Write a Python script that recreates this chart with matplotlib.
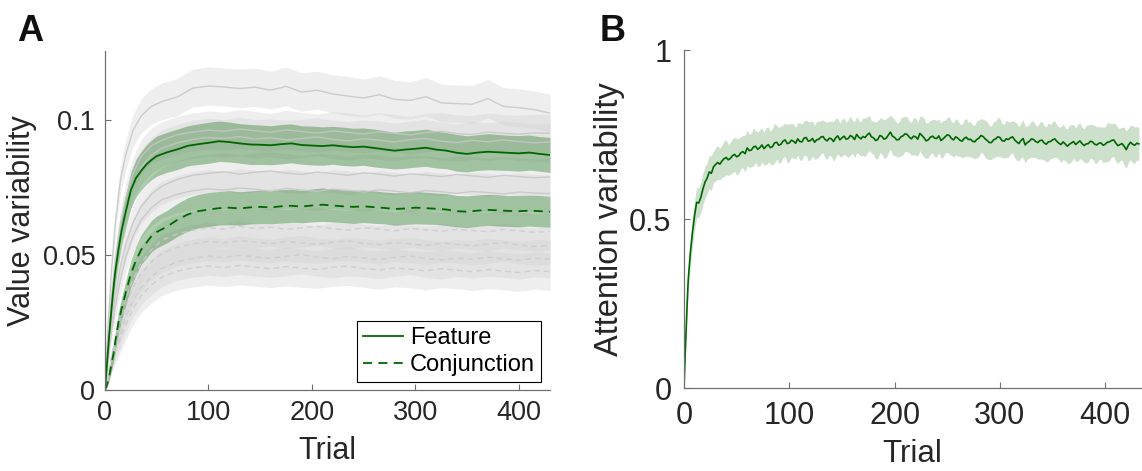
import matplotlib
matplotlib.use("Agg")
import matplotlib.pyplot as plt
import numpy as np

plt.rcParams['font.family'] = ['Liberation Sans', 'DejaVu Sans']

# ---- panel A: value variability ----
trial_a = [0, 2, 4, 6, 8, 10, 13, 16, 20, 25, 30, 35, 40, 45, 50,
           60, 70, 80, 90, 100, 110, 120, 130, 140, 150, 160, 170, 180, 190,
           200, 210, 220, 230, 240, 250, 260, 270, 280, 290, 300, 310, 320,
           330, 340, 350, 360, 370, 380, 390, 400, 410, 420, 430]

feature_mean = [0, 0.010, 0.020, 0.029, 0.037, 0.044, 0.052, 0.059, 0.066, 0.074,
                0.0785, 0.0812, 0.0835, 0.0852, 0.0866,
                0.0880, 0.0891, 0.0904, 0.0910, 0.0915, 0.0921, 0.0918, 0.0913, 0.0909, 0.0908,
                0.0906, 0.0910, 0.0913, 0.0907, 0.0905, 0.0903, 0.0906, 0.0902, 0.0899, 0.0901,
                0.0896, 0.0891, 0.0886, 0.0890, 0.0893, 0.0897, 0.0890, 0.0886, 0.0878, 0.0874,
                0.0879, 0.0882, 0.0880, 0.0878, 0.0876, 0.0879, 0.0874, 0.0870]
feature_sem = [0, 0.0015, 0.0025, 0.0035, 0.0042, 0.0048, 0.0054, 0.0058, 0.0063, 0.0067,
               0.0070, 0.0071, 0.0072, 0.0073, 0.0074,
               0.0074, 0.0075, 0.0074, 0.0075, 0.0076, 0.0075, 0.0074, 0.0073, 0.0074, 0.0073,
               0.0072, 0.0073, 0.0072, 0.0071, 0.0072, 0.0071, 0.0070, 0.0071, 0.0070, 0.0069,
               0.0070, 0.0069, 0.0068, 0.0069, 0.0068, 0.0069, 0.0068, 0.0067, 0.0068, 0.0067,
               0.0066, 0.0067, 0.0066, 0.0065, 0.0066, 0.0065, 0.0064, 0.0065]

conj_mean = [0, 0.002, 0.005, 0.009, 0.013, 0.018, 0.025, 0.030, 0.036, 0.043,
             0.048, 0.052, 0.0545, 0.057, 0.0585,
             0.0605, 0.0630, 0.0650, 0.0662, 0.0668, 0.0673, 0.0675, 0.0672, 0.0676, 0.0678,
             0.0676, 0.0680, 0.0682, 0.0679, 0.0683, 0.0686, 0.0683, 0.0680, 0.0678, 0.0680,
             0.0677, 0.0674, 0.0670, 0.0672, 0.0675, 0.0673, 0.0671, 0.0668, 0.0662, 0.0660,
             0.0664, 0.0667, 0.0665, 0.0663, 0.0662, 0.0664, 0.0662, 0.0660]
conj_sem = [0, 0.0008, 0.0015, 0.0022, 0.0028, 0.0033, 0.0038, 0.0042, 0.0046, 0.0050,
            0.0053, 0.0055, 0.0057, 0.0058, 0.0059,
            0.0060, 0.0061, 0.0062, 0.0062, 0.0063, 0.0062, 0.0063, 0.0062, 0.0061, 0.0062,
            0.0061, 0.0062, 0.0061, 0.0060, 0.0061, 0.0062, 0.0061, 0.0060, 0.0061, 0.0060,
            0.0060, 0.0059, 0.0060, 0.0059, 0.0060, 0.0059, 0.0058, 0.0059, 0.0058, 0.0059,
            0.0058, 0.0057, 0.0058, 0.0057, 0.0058, 0.0057, 0.0058, 0.0057]

# other models (grey), coarser trial grid
trial_g = [0, 3, 6, 10, 15, 20, 27, 35, 45, 55, 70, 85, 100, 115, 130, 145, 160, 175,
           190, 205, 220, 235, 250, 265, 280, 295, 310, 325, 340, 355, 370, 385, 400, 415, 430]

grey_feature = [
    [0, 0.024, 0.043, 0.062, 0.078, 0.087, 0.096, 0.1015, 0.105, 0.1068,
     0.1085, 0.1118, 0.1125, 0.1122, 0.1116, 0.1121, 0.1110, 0.1124, 0.1103, 0.1110,
     0.1096, 0.1088, 0.1081, 0.1093, 0.1076, 0.1072, 0.1086, 0.1063, 0.1060, 0.1058,
     0.1079, 0.1050, 0.1045, 0.1038, 0.1025],
    [0, 0.019, 0.034, 0.049, 0.062, 0.071, 0.080, 0.0865, 0.0905, 0.0925,
     0.0945, 0.0955, 0.0962, 0.0958, 0.0966, 0.0960, 0.0954, 0.0963, 0.0957, 0.0951,
     0.0959, 0.0954, 0.0948, 0.0956, 0.0950, 0.0944, 0.0953, 0.0958, 0.0949, 0.0946,
     0.0955, 0.0950, 0.0947, 0.0952, 0.0950],
    [0, 0.017, 0.031, 0.045, 0.058, 0.067, 0.076, 0.0825, 0.087, 0.0895,
     0.0915, 0.0928, 0.0935, 0.0931, 0.0938, 0.0929, 0.0934, 0.0926, 0.0931, 0.0937,
     0.0928, 0.0922, 0.0930, 0.0925, 0.0918, 0.0927, 0.0931, 0.0921, 0.0916, 0.0924,
     0.0919, 0.0926, 0.0920, 0.0915, 0.0918],
    [0, 0.013, 0.024, 0.035, 0.046, 0.054, 0.062, 0.068, 0.0725, 0.0755,
     0.0780, 0.0795, 0.0802, 0.0808, 0.0799, 0.0806, 0.0811, 0.0803, 0.0798, 0.0807,
     0.0801, 0.0795, 0.0804, 0.0799, 0.0792, 0.0800, 0.0796, 0.0790, 0.0798, 0.0793,
     0.0787, 0.0795, 0.0790, 0.0786, 0.0789],
    [0, 0.011, 0.021, 0.031, 0.041, 0.049, 0.057, 0.063, 0.0675, 0.0705,
     0.0725, 0.0738, 0.0745, 0.0740, 0.0748, 0.0743, 0.0737, 0.0746, 0.0741, 0.0735,
     0.0744, 0.0739, 0.0733, 0.0741, 0.0736, 0.0730, 0.0738, 0.0734, 0.0728, 0.0735,
     0.0731, 0.0726, 0.0733, 0.0729, 0.0727],
]
grey_conj = [
    [0, 0.006, 0.012, 0.019, 0.027, 0.034, 0.041, 0.047, 0.052, 0.0555,
     0.0578, 0.0592, 0.0601, 0.0596, 0.0605, 0.0598, 0.0603, 0.0595, 0.0600, 0.0606,
     0.0597, 0.0592, 0.0601, 0.0596, 0.0589, 0.0598, 0.0593, 0.0588, 0.0595, 0.0590,
     0.0586, 0.0594, 0.0589, 0.0584, 0.0587],
    [0, 0.005, 0.011, 0.017, 0.024, 0.031, 0.038, 0.043, 0.0475, 0.0505,
     0.0528, 0.0541, 0.0550, 0.0545, 0.0553, 0.0547, 0.0541, 0.0550, 0.0544, 0.0539,
     0.0548, 0.0552, 0.0543, 0.0538, 0.0546, 0.0541, 0.0535, 0.0544, 0.0539, 0.0533,
     0.0541, 0.0546, 0.0537, 0.0531, 0.0535],
    [0, 0.005, 0.010, 0.015, 0.021, 0.027, 0.033, 0.038, 0.042, 0.045,
     0.0475, 0.0488, 0.0496, 0.0490, 0.0499, 0.0493, 0.0487, 0.0495, 0.0501, 0.0492,
     0.0486, 0.0494, 0.0489, 0.0483, 0.0491, 0.0496, 0.0487, 0.0481, 0.0489, 0.0484,
     0.0492, 0.0486, 0.0480, 0.0488, 0.0485],
    [0, 0.004, 0.009, 0.014, 0.019, 0.024, 0.030, 0.035, 0.039, 0.0418,
     0.0440, 0.0452, 0.0459, 0.0453, 0.0461, 0.0455, 0.0449, 0.0457, 0.0451, 0.0446,
     0.0455, 0.0459, 0.0450, 0.0444, 0.0452, 0.0447, 0.0441, 0.0449, 0.0444, 0.0438,
     0.0446, 0.0440, 0.0435, 0.0442, 0.0438],
]
grey_sd = [0, 0.002, 0.003, 0.004, 0.005, 0.0055, 0.006, 0.0063, 0.0066, 0.0068,
           0.0069, 0.0070, 0.0071, 0.0070, 0.0072, 0.0071, 0.0070, 0.0072, 0.0071, 0.0070,
           0.0071, 0.0072, 0.0070, 0.0071, 0.0070, 0.0069, 0.0071, 0.0070, 0.0069, 0.0070,
           0.0071, 0.0069, 0.0070, 0.0069, 0.0070]

# ---- panel B: attention variability ----
trial_b = [0, 1, 2, 3, 4, 6, 8, 10] + list(range(12, 433, 2))
attn_mean = [0, 0.09, 0.17, 0.25, 0.32, 0.40, 0.46, 0.51,
             0.550, 0.548, 0.565, 0.590, 0.610, 0.622, 0.640, 0.636, 0.655, 0.662,
             0.668, 0.663, 0.672, 0.679, 0.683, 0.676, 0.680, 0.688, 0.692, 0.685,
             0.688, 0.697, 0.700, 0.694, 0.711, 0.703, 0.705, 0.714, 0.716, 0.707,
             0.712, 0.720, 0.709, 0.716, 0.721, 0.712, 0.715, 0.726, 0.728, 0.719,
             0.722, 0.731, 0.735, 0.724, 0.726, 0.734, 0.731, 0.725, 0.738, 0.730,
             0.729, 0.740, 0.742, 0.731, 0.733, 0.739, 0.728, 0.735, 0.737, 0.743,
             0.745, 0.736, 0.732, 0.740, 0.738, 0.730, 0.741, 0.747, 0.735, 0.741,
             0.746, 0.737, 0.739, 0.748, 0.744, 0.736, 0.751, 0.743, 0.738, 0.745,
             0.742, 0.750, 0.755, 0.744, 0.741, 0.733, 0.736, 0.748, 0.745, 0.737,
             0.740, 0.749, 0.758, 0.746, 0.742, 0.735, 0.736, 0.744, 0.747, 0.753,
             0.751, 0.743, 0.738, 0.746, 0.744, 0.737, 0.754, 0.748, 0.741, 0.732,
             0.735, 0.743, 0.746, 0.740, 0.739, 0.747, 0.733, 0.738, 0.744, 0.750,
             0.748, 0.739, 0.735, 0.744, 0.740, 0.734, 0.731, 0.739, 0.743, 0.736,
             0.737, 0.731, 0.729, 0.736, 0.740, 0.748, 0.745, 0.738, 0.733, 0.727,
             0.727, 0.735, 0.738, 0.744, 0.742, 0.733, 0.731, 0.738, 0.736, 0.741,
             0.744, 0.735, 0.729, 0.724, 0.733, 0.739, 0.720, 0.727, 0.731, 0.738,
             0.736, 0.730, 0.727, 0.733, 0.734, 0.726, 0.722, 0.729, 0.730, 0.735,
             0.738, 0.731, 0.725, 0.721, 0.729, 0.723, 0.716, 0.722, 0.726, 0.730,
             0.721, 0.727, 0.732, 0.724, 0.718, 0.723, 0.724, 0.731, 0.729, 0.722,
             0.720, 0.725, 0.726, 0.719, 0.722, 0.728, 0.729, 0.733, 0.735, 0.726,
             0.718, 0.721, 0.724, 0.716, 0.706, 0.719, 0.728, 0.722, 0.719, 0.725,
             0.723]
attn_sem = [0, 0.012, 0.022, 0.030, 0.035, 0.040, 0.043, 0.045,
            0.046, 0.043, 0.044, 0.047, 0.047, 0.045, 0.049, 0.052, 0.046, 0.049,
            0.050, 0.047, 0.048, 0.053, 0.051, 0.046, 0.047, 0.051, 0.050, 0.054,
            0.052, 0.047, 0.048, 0.055, 0.053, 0.049, 0.050, 0.056, 0.047, 0.051,
            0.054, 0.050, 0.049, 0.055, 0.052, 0.048, 0.055, 0.058, 0.050, 0.053,
            0.053, 0.049, 0.049, 0.057, 0.056, 0.050, 0.051, 0.047, 0.048, 0.055,
            0.054, 0.051, 0.052, 0.058, 0.057, 0.052, 0.050, 0.055, 0.053, 0.049,
            0.049, 0.054, 0.055, 0.051, 0.052, 0.059, 0.058, 0.052, 0.050, 0.055,
            0.053, 0.050, 0.056, 0.058, 0.049, 0.053, 0.054, 0.049, 0.051, 0.056,
            0.057, 0.054, 0.052, 0.048, 0.049, 0.055, 0.056, 0.051, 0.053, 0.057,
            0.058, 0.053, 0.050, 0.055, 0.054, 0.050, 0.051, 0.056, 0.056, 0.052,
            0.052, 0.047, 0.049, 0.055, 0.055, 0.050, 0.051, 0.057, 0.057, 0.052,
            0.053, 0.049, 0.050, 0.055, 0.054, 0.050, 0.052, 0.055, 0.048, 0.052,
            0.055, 0.050, 0.051, 0.054, 0.053, 0.048, 0.049, 0.055, 0.056, 0.051,
            0.052, 0.048, 0.050, 0.055, 0.054, 0.050, 0.051, 0.056, 0.055, 0.051,
            0.049, 0.054, 0.053, 0.058, 0.056, 0.050, 0.050, 0.055, 0.052, 0.048,
            0.048, 0.053, 0.055, 0.050, 0.051, 0.056, 0.054, 0.049, 0.050, 0.054,
            0.053, 0.048, 0.049, 0.055, 0.056, 0.051, 0.052, 0.057, 0.050, 0.054,
            0.054, 0.049, 0.048, 0.053, 0.053, 0.049, 0.051, 0.056, 0.055, 0.050,
            0.050, 0.055, 0.053, 0.049, 0.049, 0.056, 0.055, 0.050, 0.051, 0.056,
            0.054, 0.049, 0.048, 0.053, 0.052, 0.058, 0.056, 0.049, 0.050, 0.055,
            0.053, 0.048, 0.049, 0.056, 0.055, 0.050, 0.051, 0.055, 0.054, 0.049,
            0.050]

GREEN = '#006600'
AXCOL = '#707070'
TXT = '#262626'


def style_axes(ax, fs, pad):
    for s in ['top', 'right']:
        ax.spines[s].set_visible(False)
    for s in ['left', 'bottom']:
        ax.spines[s].set_color(AXCOL)
        ax.spines[s].set_linewidth(0.9)
    ax.tick_params(direction='in', length=4, width=0.8, color=AXCOL,
                   labelcolor=TXT, labelsize=fs, pad=pad)


fig = plt.figure(figsize=(11.42, 4.71), dpi=100)

# panel A
ax = fig.add_axes([105 / 1142, 81 / 471, 445 / 1142, 339 / 471])
tg = np.array(trial_g)
sd = np.array(grey_sd)
for m in grey_feature + grey_conj:
    m = np.array(m)
    ax.fill_between(tg, m - sd, m + sd, color='#cfcfcf', alpha=0.35, lw=0)
for m in grey_feature:
    ax.plot(tg, m, color='#c6c6c6', lw=1.0, alpha=0.85)
for m in grey_conj:
    ax.plot(tg, m, color='#cbcbcb', lw=1.0, ls=(0, (4, 3)), alpha=0.85)

ta = np.array(trial_a)
fm, fs_ = np.array(feature_mean), np.array(feature_sem)
cm, cs = np.array(conj_mean), np.array(conj_sem)
ax.fill_between(ta, fm - fs_, fm + fs_, color=GREEN, alpha=0.32, lw=0)
ax.fill_between(ta, cm - cs, cm + cs, color=GREEN, alpha=0.32, lw=0)
ax.plot(ta, fm, color=GREEN, lw=1.3, label='Feature')
ax.plot(ta, cm, color=GREEN, lw=1.3, ls=(0, (5, 3.5)), label='Conjunction')

ax.set_xlim(0, 430)
ax.set_ylim(0, 0.1255)
ax.set_xticks([0, 100, 200, 300, 400])
ax.set_yticks([0, 0.05, 0.1])
ax.set_yticklabels(['0', '0.05', '0.1'])
style_axes(ax, 19.5, 7)
ax.set_xlabel('Trial', fontsize=22, color=TXT)
ax.set_ylabel('Value variability', fontsize=22, color=TXT)
ax.xaxis.set_label_coords(0.5, -0.135)
ax.yaxis.set_label_coords(-0.153, 0.5)
leg = ax.legend(loc='lower right', bbox_to_anchor=(0.98, 0.024), borderaxespad=0,
                fontsize=17, handlelength=1.7, handletextpad=0.3, borderpad=0.25,
                labelspacing=0.2, fancybox=False, framealpha=1)
leg.get_frame().set_edgecolor('black')
leg.get_frame().set_linewidth(0.8)

# panel B
bx = fig.add_axes([684 / 1142, 83 / 471, 457 / 1142, 337.6 / 471])
tb = np.array(trial_b)
am, asd = np.array(attn_mean), np.array(attn_sem)
bx.fill_between(tb, am - asd, am + asd, color=GREEN, alpha=0.2, lw=0)
bx.plot(tb, am, color=GREEN, lw=1.2)
bx.set_xlim(0, 434)
bx.set_ylim(0, 1)
bx.set_xticks([0, 100, 200, 300, 400])
bx.set_yticks([0, 0.5, 1])
bx.set_yticklabels(['0', '0.5', '1'])
style_axes(bx, 22, 9)
bx.set_xlabel('Trial', fontsize=22.5, color=TXT)
bx.set_ylabel('Attention variability', fontsize=23.5, color=TXT)
bx.xaxis.set_label_coords(0.5, -0.152)
bx.yaxis.set_label_coords(-0.13, 0.5)

fig.text(17 / 1142, 1 - 41 / 471, 'A', fontsize=26, fontweight='heavy', color='#111111')
fig.text(600 / 1142, 1 - 41 / 471, 'B', fontsize=26, fontweight='heavy', color='#111111')

fig.savefig('out.png', dpi=100)
